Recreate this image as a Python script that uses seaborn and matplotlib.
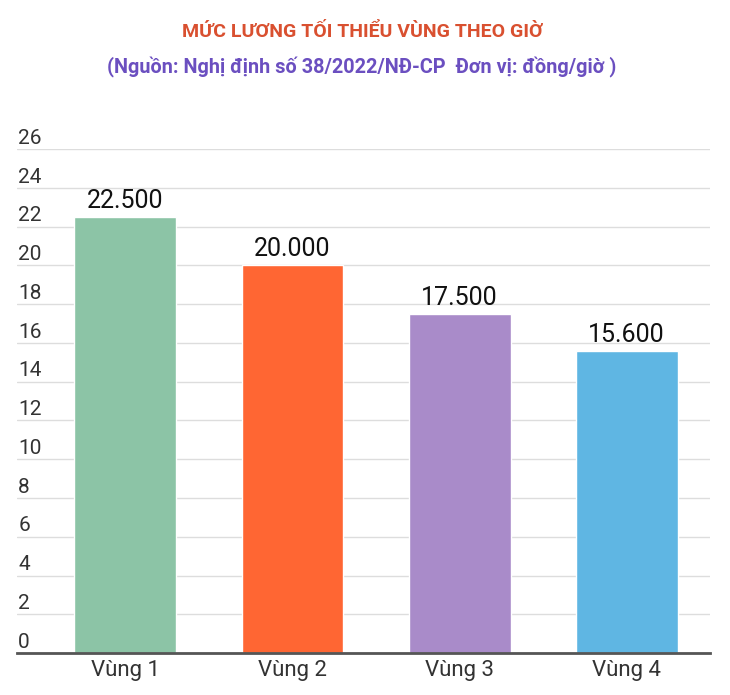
import pandas as pd
import matplotlib
matplotlib.use('Agg')
import matplotlib.pyplot as plt
import matplotlib.transforms as mtransforms
import seaborn as sns

# du lieu (nghin dong/gio)
vung = ['Vùng 1', 'Vùng 2', 'Vùng 3', 'Vùng 4']
luong = [22.5, 20.0, 17.5, 15.6]
nhan = ['22.500', '20.000', '17.500', '15.600']
mau = ['#8CC4A6', '#FF6633', '#A98BC9', '#5FB6E3']
y_ticks = list(range(0, 27, 2))

df = pd.DataFrame({'Vung': vung, 'Luong': luong})

sns.set_style('white')
plt.rcParams['font.family'] = ['Roboto', 'DejaVu Sans']

fig = plt.figure(figsize=(7.3, 6.95), dpi=100)
ax = fig.add_axes([0.023, 0.0604, 0.95, 0.725])

sns.barplot(x='Vung', y='Luong', data=df, hue='Vung', palette=mau,
            legend=False, width=0.61, saturation=1, ax=ax, zorder=3)

ax.set_xlim(-0.65, 3.5)
ax.set_ylim(0, 26)
ax.set_yticks(y_ticks)
ax.set_yticklabels([str(t) for t in y_ticks])
ax.yaxis.grid(True, color='#DDDDDD', linewidth=1, zorder=0)
ax.set_axisbelow(True)

for s in ['top', 'right', 'left']:
    ax.spines[s].set_visible(False)
ax.spines['bottom'].set_color('#555555')
ax.spines['bottom'].set_linewidth(2)
ax.spines['bottom'].set_zorder(5)

ax.tick_params(axis='y', length=0, pad=-1, labelsize=15, labelcolor='#333333')
ax.tick_params(axis='x', length=0, pad=5, labelsize=16, labelcolor='#333333')
off = mtransforms.ScaledTranslation(0, 1 / 72, fig.dpi_scale_trans)
for lbl in ax.get_yticklabels():
    lbl.set_ha('left')
    lbl.set_va('bottom')
    lbl.set_transform(lbl.get_transform() + off)

for i, c in enumerate(ax.containers):
    ax.bar_label(c, labels=[nhan[i]], padding=3, fontsize=18, color='#111111')

ax.set_xlabel('')
ax.set_ylabel('')

fig.text(0.496, 1 - 32 / 695, 'MỨC LƯƠNG TỐI THIỂU VÙNG THEO GIỜ',
         ha='center', va='center', fontsize=14, fontweight='bold', color='#D95030')
fig.text(0.495, 1 - 67 / 695, '(Nguồn: Nghị định số 38/2022/NĐ-CP  Đơn vị: đồng/giờ )',
         ha='center', va='center', fontsize=14.3, fontweight='bold', color='#6B4FC0')

fig.savefig('out.png', dpi=100)
